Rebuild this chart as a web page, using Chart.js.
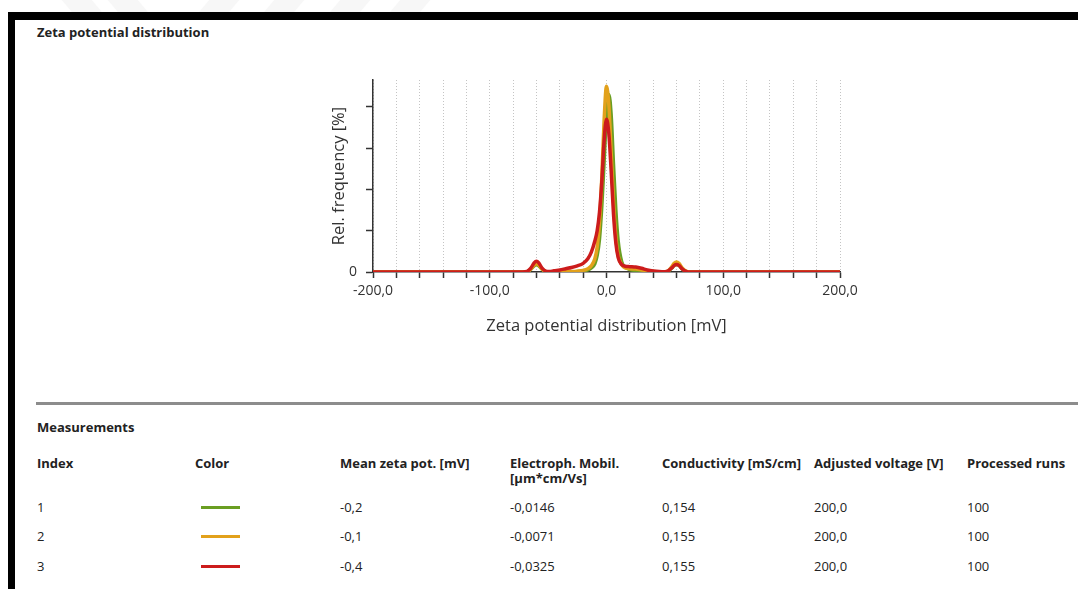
<!DOCTYPE html>
<html>
<head>
<meta charset="utf-8">
<script src="https://cdn.jsdelivr.net/npm/chart.js@4.4.1/dist/chart.umd.min.js"></script>
<style>
  body { margin: 0; background: #fff; font-family: "Open Sans", sans-serif; color: #222; }
  #page { position: relative; width: 1078px; height: 589px; overflow: hidden; background: #fff; }
  .band-top { position: absolute; left: 8px; right: 0; top: 12px; height: 8px; background: #000; }
  .band-left { position: absolute; left: 8px; top: 12px; bottom: 0; width: 7px; background: #000; }
  .mark { position: absolute; top: -2px; width: 30px; height: 14px; background: #f7f7f7; }
  .txt { position: absolute; line-height: 16px; font-size: 13px; white-space: nowrap; }
  .b { font-weight: bold; }
  .divider { position: absolute; left: 36px; right: 0; top: 402px; height: 3px; background: #8c8c8c; }
  .swatch { position: absolute; left: 201px; width: 39px; height: 3px; }
  #chartBox { position: absolute; left: 300px; top: 60px; width: 580px; height: 300px; }
</style>
</head>
<body>
<div id="page">
  <div class="mark" style="left:66px; transform:skewX(40deg);"></div>
  <div class="mark" style="left:112px; transform:skewX(40deg);"></div>
  <div class="mark" style="left:205px; transform:skewX(-40deg);"></div>
  <div class="mark" style="left:270px; transform:skewX(-40deg);"></div>
  <div class="mark" style="left:336px; transform:skewX(-40deg);"></div>
  <div class="mark" style="left:396px; transform:skewX(-40deg);"></div>
  <div class="band-top"></div>
  <div class="band-left"></div>
  <div class="txt b" style="left:37px; top:24px;">Zeta potential distribution</div>
  <div id="chartBox"><canvas id="zetaChart" width="580" height="300"></canvas></div>
  <div class="divider"></div>
  <div class="txt b" style="left:37px; top:419px;">Measurements</div>
  <div id="table"></div>
</div>
<script>
// Zeta potential axis (mV) and relative frequency of each run
const zetaMv = [-200, -80, -72, -68, -65, -62, -60, -58, -55, -52, -49, -45, -40, -35, -30, -25, -20, -16, -13, -10,
  -8, -6, -4, -2, 0, 2, 4, 6, 8, 10, 13, 16, 20, 25, 30, 35, 40, 45, 50, 53, 56, 58, 60, 62, 65, 68, 72, 80, 200];
const run1 = [0, 0, 0, 0.01, 0.06, 0.15, 0.18, 0.15, 0.06, 0.01, 0, 0, 0, 0, 0, 0.01, 0.02, 0.05, 0.1, 0.2,
  0.4, 0.8, 1.6, 2.7, 3.8, 4.3, 3.8, 2.6, 1.5, 0.75, 0.25, 0.12, 0.06, 0.04, 0.03, 0.015, 0.005, 0, 0, 0.02, 0.1, 0.16, 0.19, 0.16, 0.07, 0.015, 0, 0, 0];
const run2 = [0, 0, 0, 0.01, 0.065, 0.17, 0.2, 0.17, 0.065, 0.01, 0, 0, 0, 0.005, 0.01, 0.02, 0.04, 0.08, 0.15, 0.32,
  0.6, 1.2, 2.3, 3.7, 4.5, 4.05, 2.9, 1.7, 0.85, 0.4, 0.18, 0.1, 0.08, 0.07, 0.05, 0.03, 0.01, 0, 0, 0.03, 0.13, 0.21, 0.24, 0.21, 0.09, 0.02, 0, 0, 0];
const run3 = [0, 0, 0, 0.015, 0.085, 0.22, 0.26, 0.22, 0.085, 0.02, 0.01, 0.03, 0.05, 0.08, 0.11, 0.15, 0.21, 0.32, 0.48, 0.75,
  1.0, 1.45, 2.2, 3.2, 3.7, 3.35, 2.45, 1.4, 0.7, 0.35, 0.18, 0.14, 0.13, 0.12, 0.09, 0.05, 0.025, 0.01, 0.005, 0.03, 0.1, 0.16, 0.18, 0.16, 0.07, 0.015, 0, 0, 0];
const runColors = ['#6a9e22', '#e2a11b', '#cc1c1c'];

// Measurements table
const runIndex = ['1', '2', '3'];
const meanZeta = ['-0,2', '-0,1', '-0,4'];
const mobility = ['-0,0146', '-0,0071', '-0,0325'];
const conductivity = ['0,154', '0,155', '0,155'];
const voltage = ['200,0', '200,0', '200,0'];
const processedRuns = ['100', '100', '100'];

const table = document.getElementById('table');
const headers = [
  ['Index', 37], ['Color', 195], ['Mean zeta pot. [mV]', 340], ['Electroph. Mobil.', 510],
  ['Conductivity [mS/cm]', 662], ['Adjusted voltage [V]', 814], ['Processed runs', 967]
];
let html = headers.map(h => `<div class="txt b" style="left:${h[1]}px; top:455px;">${h[0]}</div>`).join('');
html += '<div class="txt b" style="left:510px; top:470px;">[µm*cm/Vs]</div>';
const rowY = [499, 528, 558];
runIndex.forEach((idx, i) => {
  const t = rowY[i];
  html += `<div class="txt" style="left:37px; top:${t}px;">${idx}</div>`;
  html += `<div class="swatch" style="top:${t + 7}px; background:${runColors[i]};"></div>`;
  html += `<div class="txt" style="left:340px; top:${t}px;">${meanZeta[i]}</div>`;
  html += `<div class="txt" style="left:510px; top:${t}px;">${mobility[i]}</div>`;
  html += `<div class="txt" style="left:662px; top:${t}px;">${conductivity[i]}</div>`;
  html += `<div class="txt" style="left:814px; top:${t}px;">${voltage[i]}</div>`;
  html += `<div class="txt" style="left:967px; top:${t}px;">${processedRuns[i]}</div>`;
});
table.innerHTML = html;

const toPoints = ys => zetaMv.map((x, i) => ({ x: x, y: ys[i] }));
const series = [run1, run2, run3];

new Chart(document.getElementById('zetaChart'), {
  type: 'line',
  data: {
    datasets: series.map((ys, i) => ({
      label: 'Run ' + (i + 1),
      data: toPoints(ys),
      borderColor: runColors[i],
      borderWidth: 3.5,
      pointRadius: 0,
      cubicInterpolationMode: 'monotone',
      order: 3 - i
    }))
  },
  options: {
    responsive: false,
    animation: false,
    layout: { padding: { left: 29, top: 20, right: 40, bottom: 24 } },
    plugins: { legend: { display: false }, tooltip: { enabled: false } },
    scales: {
      x: {
        type: 'linear', min: -200, max: 200,
        afterFit: s => { s.height = 64; },
        ticks: {
          stepSize: 20, autoSkip: false, maxRotation: 0, padding: 5,
          color: '#333', font: { family: 'Open Sans', size: 14 },
          callback: v => (v % 100 === 0 ? v.toFixed(1).replace('.', ',') : '')
        },
        grid: { color: '#c4c4c4', lineWidth: 1, tickLength: 6, tickColor: '#333', tickWidth: 1.5 },
        border: { color: '#333', width: 1.5, dash: [1, 2] },
        title: { display: true, text: 'Zeta potential distribution [mV]', color: '#333',
          font: { family: 'Open Sans', size: 16.5 }, padding: 0 }
      },
      y: {
        min: 0, max: 4.65,
        afterFit: s => { s.width = 44; },
        ticks: {
          stepSize: 1, includeBounds: false, padding: 9,
          color: '#333', font: { family: 'Open Sans', size: 14 },
          callback: v => (v === 0 ? '0' : '')
        },
        grid: { drawOnChartArea: false, tickLength: 7, tickColor: '#333', tickWidth: 1.5 },
        border: { color: '#333', width: 1.5 },
        title: { display: true, text: 'Rel. frequency [%]', color: '#333',
          font: { family: 'Open Sans', size: 16.5 }, padding: 0 }
      }
    }
  }
});
</script>
</body>
</html>
